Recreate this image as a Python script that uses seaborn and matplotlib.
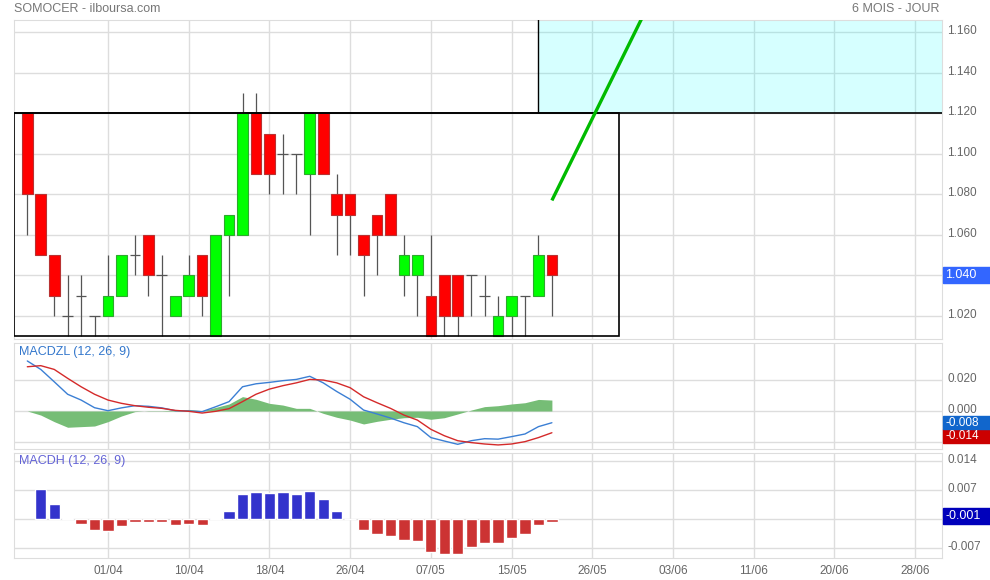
import numpy as np
import pandas as pd
import matplotlib
matplotlib.use("Agg")
import matplotlib.pyplot as plt
import matplotlib.transforms as mtransforms
from matplotlib.patches import Rectangle
import seaborn as sns

sns.set_style("white")
plt.rcParams['font.family'] = ['Liberation Sans', 'DejaVu Sans']

# cours journaliers (OHLC)
opens = [1.120, 1.080, 1.050, 1.020, 1.030, 1.020, 1.020, 1.030, 1.050, 1.060,
         1.040, 1.020, 1.030, 1.050, 1.010, 1.060, 1.060, 1.120, 1.110, 1.100,
         1.100, 1.090, 1.120, 1.080, 1.080, 1.060, 1.070, 1.080, 1.040, 1.040,
         1.030, 1.040, 1.040, 1.040, 1.030, 1.010, 1.020, 1.030, 1.030, 1.050]
highs = [1.120, 1.080, 1.050, 1.040, 1.040, 1.020, 1.050, 1.050, 1.060, 1.060,
         1.050, 1.030, 1.050, 1.050, 1.060, 1.070, 1.130, 1.130, 1.110, 1.110,
         1.100, 1.120, 1.120, 1.090, 1.080, 1.060, 1.070, 1.080, 1.060, 1.050,
         1.060, 1.040, 1.040, 1.040, 1.040, 1.030, 1.030, 1.030, 1.060, 1.050]
lows = [1.060, 1.050, 1.020, 1.010, 1.010, 1.010, 1.020, 1.030, 1.040, 1.030,
        1.010, 1.020, 1.030, 1.020, 1.010, 1.030, 1.060, 1.090, 1.080, 1.080,
        1.080, 1.060, 1.090, 1.050, 1.050, 1.030, 1.040, 1.060, 1.030, 1.020,
        1.010, 1.010, 1.010, 1.020, 1.020, 1.010, 1.010, 1.010, 1.030, 1.020]
closes = [1.080, 1.050, 1.030, 1.020, 1.030, 1.020, 1.030, 1.050, 1.050, 1.040,
          1.040, 1.030, 1.040, 1.030, 1.060, 1.070, 1.120, 1.090, 1.090, 1.100,
          1.100, 1.120, 1.090, 1.070, 1.070, 1.050, 1.060, 1.060, 1.050, 1.050,
          1.010, 1.020, 1.020, 1.040, 1.030, 1.020, 1.030, 1.030, 1.050, 1.040]

# MACD zero lag
macd_line = [0.0320, 0.0266, 0.0187, 0.0107, 0.0070, 0.0021, 0.0002, 0.0020, 0.0034, 0.0030,
             0.0020, 0.0002, 0.0000, -0.0004, 0.0027, 0.0060, 0.0155, 0.0174, 0.0183, 0.0194,
             0.0202, 0.0222, 0.0180, 0.0125, 0.0075, 0.0006, -0.0019, -0.0045, -0.0075, -0.0100,
             -0.0170, -0.0192, -0.0213, -0.0190, -0.0177, -0.0180, -0.0164, -0.0147, -0.0100, -0.0075]
signal_line = [0.0283, 0.0290, 0.0266, 0.0209, 0.0155, 0.0107, 0.0070, 0.0049, 0.0034, 0.0024,
               0.0017, 0.0004, -0.0002, -0.0013, -0.0002, 0.0015, 0.0060, 0.0107, 0.0140, 0.0162,
               0.0180, 0.0202, 0.0198, 0.0180, 0.0149, 0.0091, 0.0053, 0.0017, -0.0026, -0.0058,
               -0.0117, -0.0158, -0.0190, -0.0202, -0.0211, -0.0217, -0.0211, -0.0196, -0.0170, -0.0139]
zl_area = [0.0, -0.0026, -0.0068, -0.0104, -0.0100, -0.0096, -0.0068, -0.0032, -0.0004, 0.0002,
           0.0002, 0.0006, 0.0010, 0.0002, 0.0023, 0.0045, 0.0092, 0.0075, 0.0049, 0.0038,
           0.0017, 0.0017, -0.0015, -0.0040, -0.0058, -0.0083, -0.0066, -0.0053, -0.0043, -0.0040,
           -0.0053, -0.0043, -0.0019, 0.0006, 0.0028, 0.0034, 0.0045, 0.0053, 0.0074, 0.0070]

# MACD histogramme (a partir du 2e jour)
macdh = [0.0073, 0.0037, 0.0003, -0.0011, -0.0026, -0.0028, -0.0016, -0.0006, -0.0006, -0.0006,
         -0.0013, -0.0012, -0.0013, 0.0003, 0.0020, 0.0062, 0.0066, 0.0064, 0.0066, 0.0062,
         0.0068, 0.0049, 0.0020, 0.0, -0.0026, -0.0035, -0.0040, -0.0050, -0.0052, -0.0079,
         -0.0084, -0.0084, -0.0067, -0.0057, -0.0057, -0.0045, -0.0035, -0.0014, -0.0006]

date_labels = ['01/04', '10/04', '18/04', '26/04', '07/05', '15/05',
               '26/05', '03/06', '11/06', '20/06', '28/06']

# trace d'analyse
box_x = [-0.97, 44.0]
box_y = [1.010, 1.120]
zone_x = 38.0
trend_x = [39.0, 47.0]
trend_y = [1.077, 1.1845]

df = pd.DataFrame({'open': opens, 'high': highs, 'low': lows, 'close': closes})
df['idx'] = np.arange(len(df))
dfm = pd.DataFrame({'idx': np.arange(len(macd_line)), 'macd': macd_line,
                    'signal': signal_line, 'area': zl_area})
dfh = pd.DataFrame({'idx': np.arange(1, len(macdh) + 1), 'h': macdh})
dfh['sign'] = np.where(dfh['h'] >= 0, 'pos', 'neg')

XMIN, XMAX = -0.967, 67.98
GRID = '#dddddd'
TXT = '#666666'

fig = plt.figure(figsize=(9.9, 5.8), dpi=100)
L = 14.3 / 990
W = (941.7 - 14.3) / 990
ax1 = fig.add_axes([L, 1 - 339 / 580, W, 319 / 580])
ax2 = fig.add_axes([L, 1 - 449 / 580, W, 105.7 / 580], sharex=ax1)
ax3 = fig.add_axes([L, 1 - 558.3 / 580, W, 105.6 / 580], sharex=ax1)

for ax in (ax1, ax2, ax3):
    ax.set_axisbelow(True)
    ax.grid(True, color=GRID, lw=1)
    for s in ax.spines.values():
        s.set_color(GRID)
    ax.yaxis.tick_right()
    ax.tick_params(axis='both', length=0, labelsize=8.5, labelcolor=TXT)
    ax.tick_params(axis='y', pad=4)

# --- chandeliers
up = df['close'] >= df['open']
body_col = np.where(up, '#00ff00', '#ff0000')
edge_col = np.where(up, '#2ea82e', '#b83232')
ax1.vlines(df['idx'], df['low'], df['high'], color='#555555', lw=0.9, zorder=3)
full = df['close'] != df['open']
ax1.bar(df['idx'][full], (df['close'] - df['open']).abs()[full],
        bottom=df[['open', 'close']].min(axis=1)[full], width=0.79,
        color=body_col[full], edgecolor=edge_col[full], lw=0.8, zorder=4)
doji = ~full
ax1.hlines(df['open'][doji], df['idx'][doji] - 0.4, df['idx'][doji] + 0.4,
           color='#555555', lw=0.9, zorder=4)

ax1.fill_between([zone_x, XMAX + 1], box_y[1], 1.3, color='#00ffff', alpha=0.16, lw=0, zorder=1)
ax1.vlines(zone_x, box_y[1], 1.3, color='black', lw=1, zorder=5)
ax1.axhline(box_y[1], color='black', lw=1.2, zorder=5)
ax1.add_patch(Rectangle((box_x[0], box_y[0]), box_x[1] - box_x[0], box_y[1] - box_y[0],
                        fill=False, ec='black', lw=1.2, zorder=5))
ax1.plot(trend_x, trend_y, color='#00bb00', lw=2.4, zorder=6, solid_capstyle='butt')

ax1.set_ylim(1.00865, 1.1660)
ticks1 = np.arange(1.02, 1.161, 0.02)
ax1.set_yticks(ticks1)
# 1.040 est masque par l'etiquette du dernier cours
ax1.set_yticklabels(['' if abs(v - 1.04) < 1e-6 else f'{v:.3f}' for v in ticks1])

# --- MACDZL
ax2.fill_between(dfm['idx'], 0, dfm['area'], color='#76bd76', lw=0, zorder=2)
sns.lineplot(data=dfm, x='idx', y='macd', ax=ax2, color='#3b7fd4', lw=1, zorder=3)
sns.lineplot(data=dfm, x='idx', y='signal', ax=ax2, color='#d42a2a', lw=1, zorder=3)
ax2.set_ylim(-0.0243, 0.0433)
ax2.set_yticks([0.02, 0.0, -0.02])
ax2.set_yticklabels(['0.020', '0.000', ''])

# --- MACDH
sns.barplot(data=dfh, x='idx', y='h', hue='sign', palette={'pos': '#3333cc', 'neg': '#cc3333'},
            native_scale=True, dodge=False, width=0.84, errorbar=None, legend=False,
            ax=ax3, zorder=3, saturation=1)
ax3.set_ylim(-0.00939, 0.01604)
ax3.set_yticks([0.014, 0.007, 0.0, -0.007])
ax3.set_yticklabels(['0.014', '0.007', '', '-0.007'])

for ax in (ax1, ax2, ax3):
    ax.set_xlabel('')
    ax.set_ylabel('')
ax3.set_xlim(XMIN, XMAX)
ax3.set_xticks(np.arange(6, 67, 6))
ax3.set_xticklabels(date_labels)
ax3.tick_params(axis='x', pad=5)
ax1.tick_params(axis='x', labelbottom=False)
ax2.tick_params(axis='x', labelbottom=False)

# les libelles de l'axe droit sont un peu au-dessus des lignes
lift = mtransforms.ScaledTranslation(0, 2.5 / 100, fig.dpi_scale_trans)
for ax in (ax1, ax2, ax3):
    for lab in ax.get_yticklabels():
        lab.set_transform(lab.get_transform() + lift)


def value_tag(ax, val, txt, color, hpx=16, dy_px=0, fs=9):
    y0, y1 = ax.get_ylim()
    h_px = ax.get_position().height * fig.get_figheight() * fig.dpi
    per_px = (y1 - y0) / h_px
    dh = hpx * per_px
    yc = val - dy_px * per_px
    tr = mtransforms.blended_transform_factory(fig.transFigure, ax.transData)
    ax.add_patch(Rectangle((943 / 990, yc - dh / 2), 47 / 990, dh, transform=tr,
                           color=color, clip_on=False, zorder=10))
    ax.text(945 / 990, yc, txt, transform=tr, color='white', va='center', ha='left',
            fontsize=fs, clip_on=False, zorder=11)


value_tag(ax1, closes[-1], '1.040', '#3366ff')
value_tag(ax2, signal_line[-1], '-0.014', '#cc0000', hpx=14, dy_px=3, fs=8.5)
value_tag(ax2, macd_line[-1], '-0.008', '#1166cc', hpx=13, fs=8.5)
value_tag(ax3, 0.0007, '-0.001', '#0000bb')

ax2.annotate('MACDZL (12, 26, 9)', xy=(0, 1), xycoords='axes fraction', xytext=(5, -3),
             textcoords='offset pixels', va='top', ha='left', fontsize=9, color='#3377cc')
ax3.annotate('MACDH (12, 26, 9)', xy=(0, 1), xycoords='axes fraction', xytext=(5, -2),
             textcoords='offset pixels', va='top', ha='left', fontsize=9, color='#6363d6')

fig.text(14 / 990, 1 - 3 / 580, 'SOMOCER - ilboursa.com', ha='left', va='top', fontsize=9, color='#777777')
fig.text(940 / 990, 1 - 3 / 580, '6 MOIS - JOUR', ha='right', va='top', fontsize=9, color='#777777')

fig.savefig('out.png', dpi=100)
